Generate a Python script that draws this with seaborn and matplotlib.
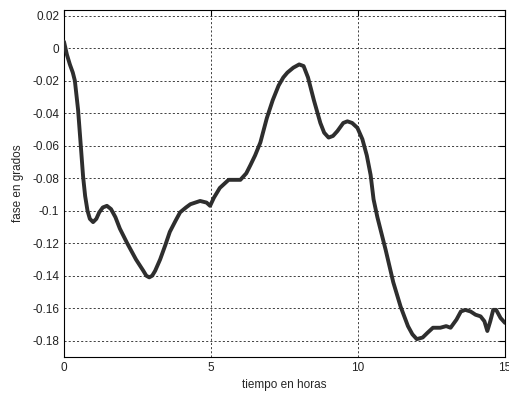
import matplotlib
matplotlib.use("Agg")
import matplotlib.pyplot as plt
import seaborn as sns
import pandas as pd

# phase drift (hours, degrees)
tiempo = [0.0, 0.1, 0.2, 0.3, 0.37, 0.48, 0.58, 0.65, 0.72, 0.8, 0.88, 0.99,
          1.1, 1.2, 1.32, 1.46, 1.6, 1.75, 1.9, 2.15, 2.45, 2.7, 2.8, 2.9,
          3.0, 3.1, 3.27, 3.45, 3.6, 3.8, 3.95, 4.15, 4.3, 4.63, 4.85, 4.97,
          5.1, 5.3, 5.6, 6.0, 6.2, 6.34, 6.5, 6.68, 6.9, 7.1, 7.3, 7.46, 7.6,
          7.8, 8.0, 8.15, 8.3, 8.5, 8.72, 8.85, 9.0, 9.15, 9.3, 9.5, 9.64,
          9.8, 9.98, 10.15, 10.3, 10.43, 10.53, 10.66, 10.94, 11.2, 11.45,
          11.7, 11.85, 12.0, 12.2, 12.37, 12.55, 12.7, 12.8, 13.0, 13.15,
          13.35, 13.5, 13.65, 13.83, 14.0, 14.17, 14.3, 14.4, 14.5, 14.6,
          14.7, 14.85, 15.0]
fase = [0.004, -0.004, -0.01, -0.015, -0.02, -0.038, -0.062, -0.079, -0.091,
        -0.1, -0.105, -0.107, -0.105, -0.101, -0.098, -0.097, -0.099,
        -0.104, -0.111, -0.12, -0.13, -0.137, -0.14, -0.141, -0.14, -0.137,
        -0.13, -0.121, -0.113, -0.106, -0.101, -0.098, -0.096, -0.094,
        -0.095, -0.097, -0.092, -0.086, -0.081, -0.081, -0.077, -0.072,
        -0.066, -0.058, -0.043, -0.032, -0.023, -0.018, -0.015, -0.012,
        -0.010, -0.011, -0.018, -0.032, -0.046, -0.052, -0.055, -0.054,
        -0.051, -0.046, -0.045, -0.046, -0.049, -0.056, -0.066, -0.078,
        -0.093, -0.104, -0.124, -0.144, -0.159, -0.171, -0.176, -0.179,
        -0.178, -0.175, -0.172, -0.172, -0.172, -0.171, -0.172, -0.167,
        -0.162, -0.161, -0.162, -0.164, -0.165, -0.168, -0.174, -0.168,
        -0.161, -0.161, -0.166, -0.169]

xticks = [0, 5, 10, 15]
yticks = [-0.18, -0.16, -0.14, -0.12, -0.1, -0.08, -0.06, -0.04, -0.02, 0, 0.02]
ylabels = ["-0.18", "-0.16", "-0.14", "-0.12", "-0.1", "-0.08", "-0.06",
           "-0.04", "-0.02", "0", "0.02"]

df = pd.DataFrame({"tiempo": tiempo, "fase": fase})

sns.set_style("white")
plt.rcParams["font.family"] = ["Liberation Sans", "DejaVu Sans"]
plt.rcParams["axes.unicode_minus"] = False

fig = plt.figure(figsize=(5.09, 3.93), dpi=100)
ax = fig.add_axes([0.1257, 0.0916, 0.8664, 0.883])

sns.lineplot(data=df, x="tiempo", y="fase", ax=ax, color="#2e2e2e",
             linewidth=2.8, zorder=3)

ax.set_xlim(0, 15)
ax.set_ylim(-0.19, 0.0235)
ax.set_xticks(xticks)
ax.set_xticklabels([str(t) for t in xticks])
ax.set_yticks(yticks)
ax.set_yticklabels(ylabels)
ax.tick_params(direction="in", length=4, width=0.8, labelsize=8.5,
               top=True, right=True, colors="black", labelcolor="#222222")
ax.grid(True, color="#222222", linestyle=(0, (2.5, 2.5)), linewidth=0.6)
for s in ax.spines.values():
    s.set_color("black")
    s.set_linewidth(0.8)

ax.set_xlabel("tiempo en horas", fontsize=8.5, labelpad=4)
ax.set_ylabel("fase en grados", fontsize=8.5, labelpad=6)

fig.savefig("out.png", dpi=100)
